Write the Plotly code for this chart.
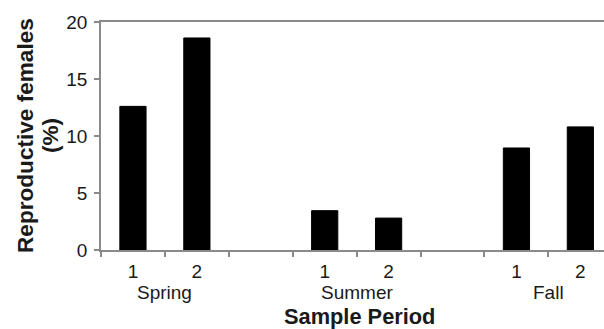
import plotly.graph_objects as go

# Data
positions = [0, 1, 3, 4, 6, 7]
sub_labels = ["1", "2", "1", "2", "1", "2"]
values = [12.6, 18.6, 3.45, 2.8, 8.95, 10.8]
groups = ["Spring", "Summer", "Fall"]
group_centers = [0.5, 3.5, 6.5]
boundaries = [-0.5, 0.5, 1.5, 2.5, 3.5, 4.5, 5.5, 6.5]
y_ticks = [0, 5, 10, 15, 20]

FONT = "Liberation Sans, Arial, sans-serif"
TXT = "#1a1a1a"
AX = "#8a8a8a"
TICK_SIZE = 19
TITLE_SIZE = 22.6

fig = go.Figure()
fig.add_trace(go.Bar(
    x=positions, y=values, width=0.41,
    marker=dict(color="black", line=dict(color="black", width=1)),
    showlegend=False, hoverinfo="skip",
))

fig.update_layout(
    width=604, height=329,
    margin=dict(l=101, r=0, t=22, b=79),
    paper_bgcolor="white", plot_bgcolor="white",
    font=dict(family=FONT, color=TXT, size=TICK_SIZE),
    xaxis=dict(
        range=[-0.5, 7.37],
        tickvals=positions, ticktext=sub_labels,
        ticks="", showgrid=False, zeroline=False,
        showline=True, linecolor=AX, linewidth=1.5, mirror=True,
        tickfont=dict(size=TICK_SIZE, color=TXT),
        ticklabelstandoff=3,
        minor=dict(tickvals=boundaries, ticks="outside", ticklen=5,
                   tickcolor=AX, tickwidth=1.5, showgrid=False),
    ),
    yaxis=dict(
        range=[0, 20], tickvals=y_ticks,
        ticks="outside", ticklen=5, tickcolor=AX, tickwidth=1.5,
        showgrid=False, zeroline=False,
        showline=True, linecolor=AX, linewidth=1.5,
        tickfont=dict(size=TICK_SIZE, color=TXT),
        ticklabelstandoff=3,
    ),
)

anns = []
for g, c in zip(groups, group_centers):
    anns.append(dict(text=g, x=c, xref="x", y=-0.186, yref="paper",
                     xanchor="center", yanchor="middle", showarrow=False,
                     font=dict(size=TICK_SIZE, color=TXT, family=FONT)))
anns.append(dict(text="<b>Sample Period</b>", x=3.55, xref="x", y=-0.292, yref="paper",
                 xanchor="center", yanchor="middle", showarrow=False,
                 font=dict(size=21.8, color=TXT, family=FONT)))
anns.append(dict(text="<b>Reproductive females</b>", x=(25 - 101) / 503, xref="paper",
                 y=0.5, yref="paper", textangle=-90,
                 xanchor="center", yanchor="middle", showarrow=False,
                 font=dict(size=TITLE_SIZE, color=TXT, family=FONT)))
anns.append(dict(text="<b>(%)</b>", x=(50 - 101) / 503, xref="paper",
                 y=0.5, yref="paper", textangle=-90,
                 xanchor="center", yanchor="middle", showarrow=False,
                 font=dict(size=TITLE_SIZE, color=TXT, family=FONT)))
fig.update_layout(annotations=anns)

fig.write_html("out.html", config={"displayModeBar": False},
               post_script="document.body.style.margin='0';document.body.style.overflow='hidden';")
